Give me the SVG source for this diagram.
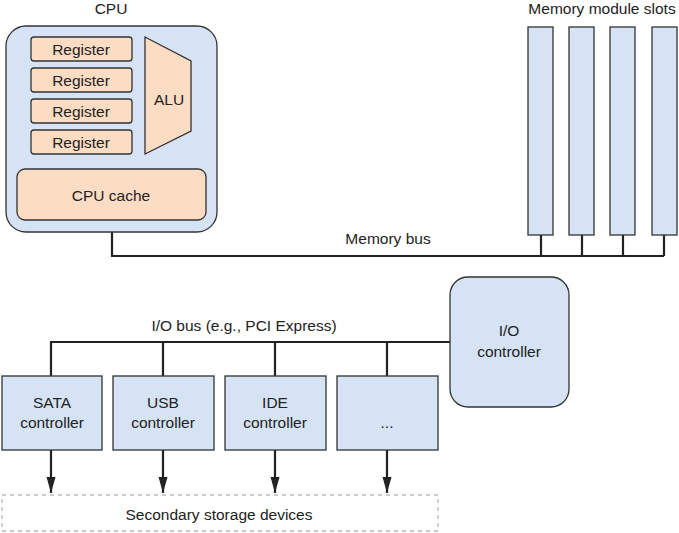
<svg xmlns="http://www.w3.org/2000/svg" width="679" height="533" viewBox="0 0 679 533">
<style>
text{font-family:"Liberation Sans",Arial,sans-serif;font-size:15.5px;fill:#222;text-anchor:middle}
.blue{fill:#d5e3f5;stroke:#333;stroke-width:1.3}
.orange{fill:#fddcc4;stroke:#333;stroke-width:1.3}
.wire{fill:none;stroke:#222;stroke-width:2.2}
</style>
<defs>
<marker id="arr" viewBox="0 0 16 10" refX="16" refY="5" markerWidth="16" markerHeight="10" markerUnits="userSpaceOnUse" orient="auto">
<path d="M0,0.5 L16,5 L0,9.5 Z" fill="#222"/>
</marker>
</defs>
<rect width="679" height="533" fill="#fff"/>

<g id="connectors">
<path class="wire" d="M112,232 V256 H664"/>
<path class="wire" d="M541,235 V256 M582,235 V256 M623,235 V256 M664,235 V256"/>
<path class="wire" d="M51,376 V342 H450"/>
<path class="wire" d="M163,342 V376 M275,342 V376 M387,342 V376"/>
<path class="wire" d="M51,450 V493" marker-end="url(#arr)"/>
<path class="wire" d="M163,450 V493" marker-end="url(#arr)"/>
<path class="wire" d="M275,450 V493" marker-end="url(#arr)"/>
<path class="wire" d="M387,450 V493" marker-end="url(#arr)"/>
<text x="388" y="244">Memory bus</text>
<text x="244" y="331">I/O bus (e.g., PCI Express)</text>
</g>

<g id="cpu">
<text x="111" y="14">CPU</text>
<rect class="blue" x="6" y="26" width="211" height="206" rx="20"/>
</g>
<g id="reg1"><rect class="orange" x="31" y="37" width="101" height="24" rx="3"/><text x="81" y="54.5">Register</text></g>
<g id="reg2"><rect class="orange" x="31" y="68" width="101" height="24" rx="3"/><text x="81" y="85.5">Register</text></g>
<g id="reg3"><rect class="orange" x="31" y="99" width="101" height="24" rx="3"/><text x="81" y="116.5">Register</text></g>
<g id="reg4"><rect class="orange" x="31" y="130" width="101" height="24" rx="3"/><text x="81" y="147.5">Register</text></g>
<g id="alu"><path class="orange" d="M145,37 L191,61 L191,131 L145,154 Z"/><text x="169" y="105">ALU</text></g>
<g id="cache"><rect class="orange" x="17" y="169" width="189" height="51" rx="8"/><text x="111" y="201">CPU cache</text></g>

<g id="memory">
<text x="602" y="14">Memory module slots</text>
<rect class="blue" x="528" y="27" width="25" height="208"/>
<rect class="blue" x="569" y="27" width="25" height="208"/>
<rect class="blue" x="610" y="27" width="25" height="208"/>
<rect class="blue" x="652" y="27" width="25" height="208"/>
</g>

<g id="io-controller"><rect class="blue" x="450" y="277" width="119" height="130" rx="18"/><text x="509" y="336">I/O</text><text x="509" y="357">controller</text></g>

<g id="sata"><rect class="blue" x="2" y="376" width="100" height="74"/><text x="52" y="408">SATA</text><text x="52" y="428">controller</text></g>
<g id="usb"><rect class="blue" x="113" y="376" width="101" height="74"/><text x="163" y="408">USB</text><text x="163" y="428">controller</text></g>
<g id="ide"><rect class="blue" x="225" y="376" width="101" height="74"/><text x="275" y="408">IDE</text><text x="275" y="428">controller</text></g>
<g id="more"><rect class="blue" x="337" y="376" width="101" height="74"/><text x="387" y="428">...</text></g>

<g id="storage"><rect x="2" y="495" width="436" height="36" fill="none" stroke="#bbb" stroke-width="1.3" stroke-dasharray="4 4"/><text x="219" y="520">Secondary storage devices</text></g>
</svg>
